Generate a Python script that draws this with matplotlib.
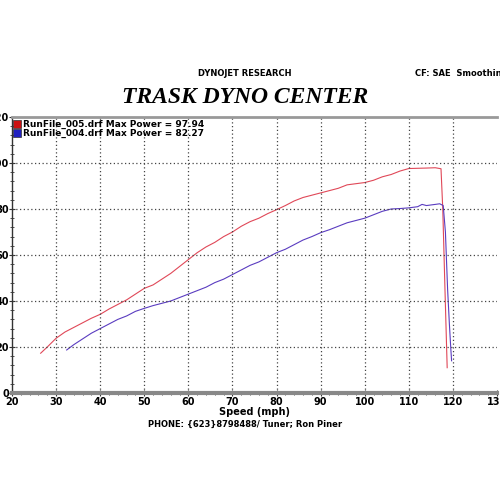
import matplotlib.pyplot as plt
from matplotlib.ticker import MultipleLocator
from matplotlib.lines import Line2D

# run 005 (red)
red_speed = [26.5, 28, 30, 32, 34, 36, 38, 40, 42, 44, 46, 48, 50, 52, 54, 56, 58, 60,
             62, 64, 66, 68, 70, 72, 74, 76, 78, 80, 82, 84, 86, 88, 90, 92, 94, 96, 98,
             100, 102, 104, 106, 108, 110, 112, 114, 116, 117.3, 117.7, 118.2, 118.7]
red_power = [17.3, 20, 23.8, 26.5, 28.5, 30.5, 32.5, 34.2, 36.5, 38.5, 40.5, 43, 45.5,
             47, 49.5, 52, 55, 58, 61, 63.5, 65.5, 68, 70, 72.5, 74.5, 76, 78, 79.7,
             81.5, 83.5, 85, 86, 87, 88, 89, 90.5, 91, 91.5, 92.5, 94, 95, 96.5, 97.6,
             97.7, 97.8, 97.94, 97.5, 80, 45, 11]

# run 004 (blue)
blue_speed = [32.4, 34, 36, 38, 40, 42, 44, 46, 48, 50, 52, 54, 56, 58, 60, 62, 64, 66,
              68, 70, 72, 74, 76, 78, 80, 82, 84, 86, 88, 90, 92, 94, 96, 98, 100, 102,
              104, 106, 108, 110, 112, 113, 114, 116, 117, 117.8, 118.3, 118.8, 119.2,
              119.5, 119.7]
blue_power = [18.7, 21, 23.5, 26, 28, 30, 32, 33.5, 35.5, 36.8, 38, 39, 40, 41.5, 43,
              44.5, 46, 48, 49.5, 51.5, 53.5, 55.5, 57, 59, 61, 62.5, 64.5, 66.5, 68,
              69.7, 71, 72.5, 74, 75, 76, 77.5, 79, 80, 80.2, 80.5, 81, 82, 81.5, 82,
              82.27, 81.5, 70, 45, 30, 20, 14]

labels = ["RunFile_005.drf Max Power = 97.94", "RunFile_004.drf Max Power = 82.27"]
colors = ["#e04858", "#5a3cc0"]

fig = plt.figure(figsize=(5, 5), dpi=100)
ax = fig.add_axes([0.024, 0.214, 0.97, 0.552])

ax.plot(red_speed, red_power, color=colors[0], lw=0.8)
ax.plot(blue_speed, blue_power, color=colors[1], lw=0.8)

ax.set_xlim(20, 130)
ax.set_ylim(0, 120)
ax.xaxis.set_major_locator(MultipleLocator(10))
ax.xaxis.set_minor_locator(MultipleLocator(2))
ax.yaxis.set_major_locator(MultipleLocator(20))
ax.yaxis.set_minor_locator(MultipleLocator(4))

for x in range(30, 130, 10):
    ax.axvline(x, color="#444444", ls=(0, (1, 2)), lw=0.9)
for y in range(20, 120, 20):
    ax.axhline(y, color="#444444", ls=(0, (1, 2)), lw=0.9)

ax.spines["right"].set_visible(False)
ax.spines["top"].set_color("#999999")
ax.spines["top"].set_linewidth(2)
ax.spines["bottom"].set_color("#888888")
ax.spines["bottom"].set_linewidth(3)
ax.spines["left"].set_color("#333333")
ax.spines["left"].set_linewidth(1)

ax.tick_params(axis="both", which="both", direction="inout", color="#333333")
ax.tick_params(axis="both", which="major", length=4, labelsize=7)
ax.tick_params(axis="both", which="minor", length=3)
ax.tick_params(axis="x", pad=1)
ax.tick_params(axis="y", pad=0)
ax.tick_params(top=False, right=False)
for lab in ax.get_xticklabels() + ax.get_yticklabels():
    lab.set_fontweight("bold")

ax.set_xlabel("Speed (mph)", fontsize=7, fontweight="bold", labelpad=0)

handles = [Line2D([], [], marker="s", ls="none", markersize=6, markerfacecolor=c,
                  markeredgecolor="#333333", markeredgewidth=0.5) for c in ["#cc1010", "#2020c0"]]
leg = ax.legend(handles, labels, loc="upper left", bbox_to_anchor=(0.0, 1.0), frameon=False,
                prop={"size": 6.5, "weight": "bold"}, handlelength=0.6, handletextpad=0.3,
                labelspacing=0.05, borderaxespad=0.2, borderpad=0.1)

fig.text(0.49, 0.853, "DYNOJET RESEARCH", ha="center", va="center", fontsize=6, fontweight="bold")
fig.text(0.83, 0.853, "CF: SAE  Smoothing", ha="left", va="center", fontsize=6, fontweight="bold")
fig.text(0.49, 0.805, "TRASK DYNO CENTER", ha="center", va="center", fontsize=17,
         fontweight="bold", fontstyle="italic", family="Liberation Serif")
fig.text(0.49, 0.152, "PHONE: {623}8798488/ Tuner; Ron Piner", ha="center", va="center",
         fontsize=6, fontweight="bold")

fig.savefig("out.png", dpi=100)
